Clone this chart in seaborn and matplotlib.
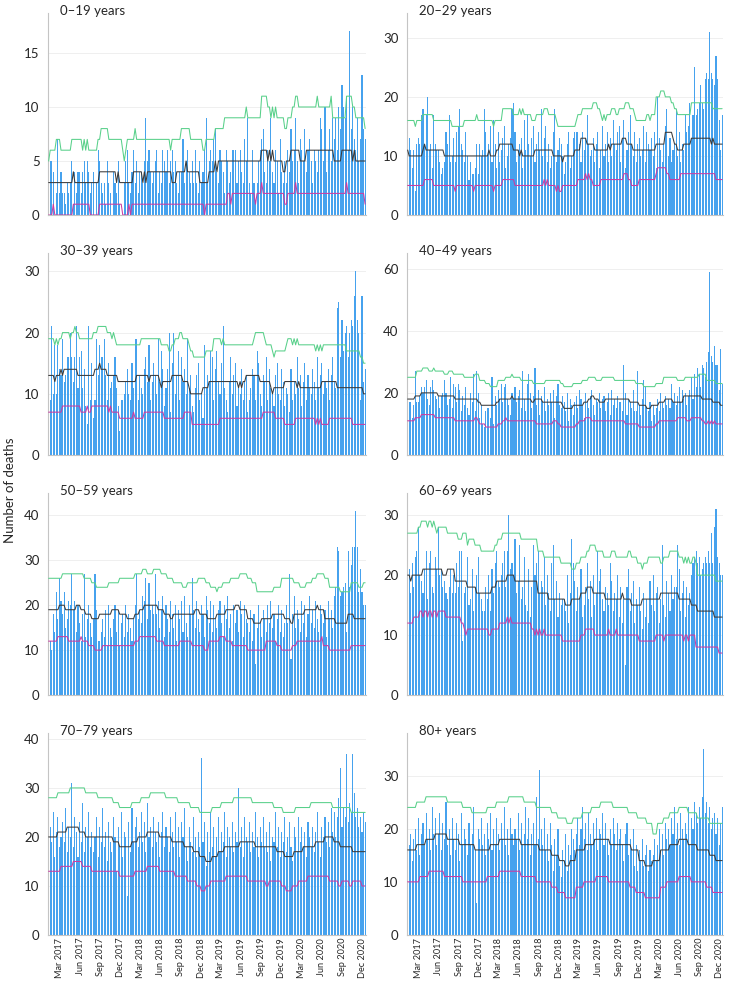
import numpy as np
import pandas as pd
import matplotlib
matplotlib.use("Agg")
import matplotlib.pyplot as plt
import matplotlib.dates as mdates
from matplotlib.ticker import MultipleLocator
import seaborn as sns

# ---------------- data (weekly deaths, week 0 = 2017-01-09) ----------------
START = "2017-01-09"
titles = ["0–19 years", "20–29 years", "30–39 years", "40–49 years",
          "50–59 years", "60–69 years", "70–79 years", "80+ years"]

# bars
bars_0_19 = [1,5,5,4,0,2,7,2,4,2,2,1,3, 2,3,5,1,4,2,4,4,2,4,5,3,5, 4,2,3,4,0,3,6,5,3,2,3,1,5,
             3,2,0,4,3,2,5,1,0,0,3,5,6, 3,2,4,6,3,5,2,4,4,3,5,9,5, 6,4,3,4,5,6,2,4,3,6,5,4,6,
             3,5,6,4,5,3,2,4,4,7,3,5,6, 4,3,5,3,6,3,2,5,3,4,6,9,3, 5,6,5,7,8,4,3,6,5,4,2,6,5,
             3,4,6,6,6,3,5,6,4,3,7,5,9, 3,2,6,3,1,3,5,6,7,8,4,3,6, 5,9,4,3,6,5,2,7,4,3,5,3,6,
             4,8,5,6,9,5,3,7,6,5,8,4,6, 7,5,3,6,5,4,6,9,8,5,10,4,6, 8,5,9,7,9,6,10,8,12,10,9,11,6,
             17,8,10,7,6,9,5,7,13,8,7]
bars_20_29 = [16,13,11,8,11,4,12,13,12,17, 18,12,17,20,11,12,8,17,12,11, 11,9,7,8,9,14,12,17,9,10,
              13,9,14,15,18,12,11,9,14,10, 6,9,7,7,8,12,7,12,10,11, 18,14,10,12,15,9,16,12,8,14,
              9,11,13,15,8,10,12,13,18,19, 14,9,11,12,13,8,16,11,17,12, 10,13,15,9,12,14,11,18,10,13,
              15,9,12,8,10,14,18,9,11,13, 12,10,7,9,12,14,8,10,13,14, 14,14,12,9,14,11,13,17,12,10,
              11,13,9,12,14,8,11,15,10,12, 14,9,13,10,16,12,11,14,15,9, 13,16,8,11,14,17,12,10,14,9,
              12,13,10,11,15,9,14,12,11,13, 10,14,8,20,13,11,9,12,15,18, 10,13,9,11,12,18,10,14,9,12,
              11,17,14,15,19,13,17,25,17,18, 19,22,19,18,23,24,23,31,24,23, 22,27,23,16,11,17]
bars_30_39 = [8,9,21,10,18,10,18,14,13,19, 12,13,16,16,20,16,12,16,21,11, 16,17,11,14,8,5,21,9,15,6,
              9,19,13,18,16,16,19,13,9,15, 11,12,13,16,11,8,4,9,9,10, 12,14,10,9,15,11,19,19,9,13,
              11,10,14,16,12,18,9,12,15,13, 10,19,12,17,14,8,11,14,20,7, 15,20,10,13,17,9,16,12,14,10,
              19,11,13,8,7,11,13,15,9,10, 6,18,11,13,12,17,16,9,14,17, 12,10,15,21,11,9,7,12,16,10,
              13,15,8,11,10,14,9,12,13,7, 9,11,14,13,9,17,15,10,8,13, 12,16,9,14,11,10,8,13,15,10,
              9,14,12,8,11,10,7,14,9,12, 10,16,11,13,8,12,15,9,13,11, 10,14,12,9,16,11,13,15,10,12,
              11,14,9,13,16,12,11,24,25,16, 22,17,20,21,16,20,22,21,26,30, 22,20,9,26,12,14]
bars_40_49 = [16,17,17,12,16,27,17,17,19,22, 20,22,24,18,16,22,24,21,19,18, 19,15,19,20,24,20,16,18,25,15,
              23,22,17,23,21,14,19,16,22,15, 13,20,17,26,14,27,20,12,16,10, 9,14,15,15,12,25,10,19,16,21,
              18,23,17,22,23,18,16,13,20,18, 22,17,19,21,15,27,18,14,23,26, 20,15,19,28,16,21,13,19,17,22,
              14,18,16,20,17,21,12,19,23,16, 15,19,17,14,20,11,18,16,13,17, 19,15,21,18,16,12,20,17,15,19,
              21,16,13,18,17,20,15,18,19,14, 17,20,13,21,16,18,15,19,17,17, 14,29,20,13,18,17,15,21,14,14,
              27,16,13,18,24,22,15,14,17,11, 16,13,15,18,14,20,17,15,19,16, 18,15,23,17,20,16,19,22,17,21,
              18,20,16,19,21,25,18,26,22,28, 26,22,29,28,25,30,33,59,32,30, 35,29,29,21,34,23]
bars_50_59 = [20,12,10,18,14,23,17,26,21,18, 23,15,17,21,20,27,19,21,14,20, 16,12,18,27,13,17,20,16,13,17,
              27,19,12,12,14,17,13,19,11,20, 15,13,17,20,14,19,11,16,18,13, 20,14,18,15,12,17,20,27,17,19,
              16,22,21,26,17,25,19,20,18,27, 18,21,15,19,22,13,20,17,14,21, 18,15,20,12,19,17,21,14,22,16,
              13,20,18,26,19,15,21,17,14,20, 18,13,22,19,16,21,14,20,17,15, 19,21,16,13,20,17,22,15,18,12,
              20,16,19,14,21,18,13,20,17,16, 14,19,12,18,7,15,20,16,13,19, 17,14,20,16,21,15,18,12,17,20,
              14,19,13,16,20,16,27,8,18,22, 15,19,17,14,21,16,20,13,18,22, 16,19,15,21,17,14,20,18,16,19,
              13,21,17,19,15,22,24,33,32,22, 23,24,25,14,32,24,29,33,33,41, 33,23,28,23,20,20]
bars_60_69 = [16,21,17,22,18,23,24,28,20,19, 17,21,24,16,22,24,18,17,23,21, 28,20,21,18,19,17,16,18,21,17,
              20,17,22,18,24,24,9,17,18,23, 15,16,21,14,18,20,23,17,16,14, 14,18,16,20,14,21,17,22,24,19,
              18,20,22,24,18,24,30,21,22,20, 26,17,19,25,16,18,23,15,14,21, 13,18,25,20,22,24,17,19,18,23,
              15,20,17,14,22,25,16,19,13,17, 15,16,16,14,20,12,17,26,22,19, 14,18,16,21,13,15,18,22,16,19,
              13,20,15,17,24,19,21,16,14,18, 17,15,22,19,14,17,16,20,13,18, 12,16,5,18,21,14,17,19,12,16,
              15,18,14,11,17,13,16,12,19,15, 20,14,17,18,12,16,25,15,13,19, 17,14,20,16,18,18,25,21,14,17,
              19,13,18,15,17,20,22,23,24,22, 23,20,21,22,23,22,24,22,27,22, 28,31,23,22,20,20]
bars_70_79 = [17,22,19,25,16,21,24,18,20,23, 19,26,17,22,20,31,18,24,21,16, 23,19,27,17,22,20,25,18,21,17,
              20,24,16,22,19,26,18,21,15,23, 19,17,24,20,13,22,18,25,16,21, 20,8,23,17,26,19,22,24,18,21,
              25,19,23,17,27,20,22,18,24,21, 19,23,16,21,25,18,22,20,17,24, 21,18,25,19,22,16,23,20,26,18,
              15,22,19,17,24,20,16,21,18,36, 19,23,14,21,17,25,18,22,16,20, 24,17,21,19,25,16,22,20,18,23,
              17,21,19,30,18,22,16,24,20,19, 23,17,21,18,25,20,16,22,19,24, 18,21,17,23,15,20,19,25,18,22,
              16,21,19,24,17,20,23,18,15,22, 20,17,24,19,22,18,21,16,23,20, 18,22,17,21,25,19,16,22,20,24,
              19,23,18,26,21,25,20,24,28,34, 22,26,24,37,23,27,25,37,29,24, 26,22,24,21,25,23]
bars_80p = [13,17,19,14,18,20,16,22,15,19, 21,17,23,18,20,16,24,19,22,17, 19,23,16,21,18,25,17,20,15,22,
            18,16,21,19,14,23,17,20,18,15, 21,17,19,24,16,6,20,18,22,17, 19,15,21,18,23,16,20,17,22,19,
            16,21,18,24,17,20,15,22,19,17, 20,18,23,16,21,17,19,24,18,22, 15,19,21,17,26,18,31,20,17,22,
            16,19,14,21,17,12,18,15,20,13, 11,16,14,19,12,17,15,20,18,16, 19,22,17,20,24,18,21,16,23,19,
            17,21,18,22,16,20,19,23,17,21, 18,15,20,17,22,19,16,21,18,20, 17,14,19,21,15,18,16,20,13,17,
            12,16,14,18,13,15,17,12,16,14, 15,18,14,17,20,16,19,15,21,18, 20,17,22,19,24,18,21,17,23,20,
            18,21,19,24,17,22,20,25,23,21, 24,22,26,35,23,25,21,24,20,22, 23,19,22,17,21,24]

# threshold / expected lines as (value, number of consecutive weeks)
upper_0_19 = [(5,1),(6,4),(7,3),(6,7),(7,7),(6,1),(7,1),(6,1),(7,1),(6,6),(7,2),(8,5),(7,9),(6,1),(5,1),(6,1),
              (7,5),(8,1),(7,22),(6,1),(7,6),(8,6),(7,8),(6,2),(7,6),(8,6),(9,14),(10,1),(9,9),(11,4),(10,2),
              (9,1),(10,1),(9,1),(10,1),(9,5),(8,2),(9,3),(10,2),(11,2),(10,12),(11,1),(10,8),(11,1),(9,9),
              (11,4),(10,2),(9,6),(8,1)]
mid_0_19 = [(3,16),(4,1),(3,16),(4,11),(3,1),(4,1),(3,9),(4,6),(3,1),(4,1),(3,1),(4,16),(3,3),(4,6),(5,1),
            (4,8),(3,6),(4,4),(5,1),(4,1),(5,28),(6,4),(5,1),(6,1),(5,1),(6,1),(5,6),(4,2),(5,3),(6,6),(5,4),
            (6,18),(5,5),(6,7),(5,1),(6,1),(5,7)]
low_0_19 = [(0,3),(1,1),(0,12),(1,11),(0,6),(1,15),(0,4),(1,1),(0,1),(1,47),(0,1),(1,14),(2,2),(1,1),(2,15),
            (1,1),(2,3),(3,1),(2,14),(1,2),(2,5),(3,1),(2,32),(3,1),(2,11),(1,1)]

upper_20_29 = [(16,5),(15,1),(16,4),(17,7),(16,12),(15,8),(16,8),(17,1),(16,10),(15,1),(16,5),(18,7),(17,4),
               (18,1),(17,1),(18,1),(17,5),(16,3),(17,5),(18,3),(17,5),(16,1),(15,12),(16,1),(17,3),(18,7),
               (19,3),(18,2),(17,1),(16,1),(17,1),(16,1),(17,3),(18,3),(17,2),(18,4),(19,3),(18,3),(17,1),
               (16,7),(17,2),(16,1),(17,3),(20,3),(21,3),(20,4),(19,2),(18,2),(17,9),(19,14),(18,7)]
mid_20_29 = [(11,1),(10,9),(11,1),(12,1),(11,12),(10,29),(11,1),(10,4),(11,2),(12,9),(11,4),(10,1),(11,1),
             (10,8),(11,12),(10,6),(9,1),(10,7),(11,4),(13,4),(12,5),(11,9),(12,1),(11,1),(12,7),(13,3),
             (12,4),(11,15),(12,6),(14,5),(13,1),(12,2),(11,4),(12,5),(13,13),(12,1),(13,1),(12,6)]
low_20_29 = [(5,11),(6,6),(5,14),(4,1),(5,11),(4,1),(5,12),(4,1),(5,5),(6,8),(5,19),(6,1),(5,1),(6,1),(5,5),
             (4,1),(5,1),(4,2),(5,10),(6,5),(7,1),(6,1),(7,1),(6,2),(5,5),(6,15),(7,3),(6,2),(5,5),(6,11),
             (7,1),(8,6),(7,2),(6,7),(7,23),(6,5)]

upper_30_39 = [(19,4),(18,1),(19,1),(18,1),(19,2),(20,5),(19,1),(20,2),(21,1),(20,2),(19,9),(20,3),(21,6),
               (20,3),(19,1),(20,1),(19,1),(18,16),(19,13),(18,5),(17,2),(18,2),(19,3),(20,2),(19,4),(18,1),
               (17,2),(16,8),(17,5),(19,5),(18,1),(19,1),(18,19),(19,1),(20,6),(19,1),(18,4),(17,1),(16,1),
               (17,7),(18,1),(19,3),(18,1),(19,1),(18,1),(19,1),(18,11),(17,1),(18,1),(17,1),(18,1),(17,1),
               (18,15),(17,9),(16,2),(15,2)]
mid_30_39 = [(13,4),(12,1),(13,3),(14,1),(13,1),(14,9),(13,11),(14,3),(15,1),(14,4),(13,7),(12,12),(13,8),
             (12,1),(13,6),(12,1),(11,1),(12,6),(13,7),(12,4),(11,1),(10,8),(11,4),(12,19),(11,1),(12,1),
             (11,1),(12,2),(13,9),(12,7),(11,1),(10,1),(11,7),(12,8),(11,1),(12,1),(11,14),(12,10),(11,17),
             (10,2)]
low_30_39 = [(7,9),(8,12),(7,4),(8,1),(7,2),(8,11),(7,1),(8,1),(7,5),(6,9),(7,1),(6,6),(7,13),(6,13),(7,5),
             (5,18),(6,28),(7,8),(6,6),(5,7),(6,13),(5,1),(6,1),(5,1),(6,1),(5,5),(6,15),(5,9)]

upper_40_49 = [(25,6),(27,4),(28,4),(27,3),(28,1),(27,6),(26,3),(27,3),(26,7),(25,7),(26,3),(24,4),(23,3),
               (22,5),(24,5),(25,4),(26,1),(25,5),(24,8),(23,8),(24,10),(23,2),(22,6),(23,6),(24,4),(25,5),
               (24,4),(25,8),(24,14),(23,5),(22,8),(23,5),(25,9),(24,5),(25,9),(26,5),(24,6),(23,5)]
mid_40_49 = [(18,5),(19,4),(20,11),(19,11),(18,15),(17,2),(16,10),(17,2),(18,8),(19,1),(18,12),(17,2),
             (18,5),(17,13),(16,1),(15,6),(16,7),(17,3),(18,2),(19,2),(18,3),(17,4),(18,16),(17,6),(16,5),
             (15,3),(16,5),(17,4),(18,5),(17,7),(19,12),(18,7),(17,5),(16,2)]
low_40_49 = [(11,5),(12,4),(13,9),(12,13),(11,13),(12,2),(11,1),(10,4),(9,8),(10,3),(11,2),(12,1),(11,19),
             (10,11),(11,3),(10,2),(9,10),(10,2),(11,4),(12,4),(11,22),(10,9),(9,11),(10,2),(11,12),(12,6),
             (11,3),(12,7),(11,2),(10,2),(11,1),(10,1),(11,1),(10,1),(11,1),(10,5)]

upper_50_59 = [(26,9),(27,14),(26,5),(25,3),(24,8),(25,7),(26,10),(27,5),(28,3),(27,4),(28,5),(27,4),(26,4),
               (25,6),(24,3),(25,7),(26,5),(25,3),(24,4),(23,1),(24,3),(25,5),(26,6),(27,5),(26,3),(25,3),
               (23,11),(24,5),(26,8),(25,4),(24,4),(25,4),(26,3),(27,5),(26,3),(24,7),(23,7),(25,5),(24,3),
               (25,2)]
mid_50_59 = [(19,7),(20,4),(19,7),(20,3),(19,3),(18,4),(17,5),(18,8),(19,5),(18,5),(17,5),(18,3),(19,3),
             (20,9),(19,4),(18,4),(17,2),(18,14),(19,3),(18,5),(17,6),(18,6),(19,6),(20,3),(19,5),(17,4),
             (16,5),(17,7),(18,8),(17,4),(16,2),(18,7),(19,8),(20,1),(19,4),(17,7),(16,8),(18,4),(17,8)]
low_50_59 = [(12,6),(13,7),(12,8),(13,1),(12,4),(11,4),(10,5),(11,21),(12,3),(13,11),(12,5),(11,10),(12,8),
             (11,8),(10,3),(12,7),(13,4),(12,4),(11,10),(10,12),(12,7),(11,3),(10,7),(11,3),(12,16),(13,1),
             (11,4),(10,14),(11,10)]

upper_60_69 = [(27,7),(28,2),(29,4),(28,1),(29,2),(28,1),(29,1),(28,1),(27,1),(28,6),(27,7),(26,3),(27,3),
               (25,1),(26,4),(25,4),(24,9),(25,2),(26,3),(27,12),(26,11),(24,4),(23,11),(22,7),(21,3),(22,3),
               (23,4),(24,2),(25,4),(24,5),(23,5),(24,3),(23,8),(24,2),(23,4),(22,3),(21,1),(22,3),(23,8),
               (22,2),(23,4),(24,6),(23,3),(22,1),(23,1),(22,1),(23,1),(22,2),(23,2),(22,1),(20,12),(19,5)]
mid_60_69 = [(20,2),(19,1),(20,7),(21,13),(20,3),(21,5),(19,8),(18,6),(17,10),(18,3),(19,7),(20,5),(19,15),
             (17,7),(16,11),(15,4),(16,6),(17,4),(18,4),(17,8),(16,11),(17,1),(16,5),(15,7),(16,12),(17,12),
             (16,8),(15,4),(14,11),(13,6)]
low_60_69 = [(12,4),(13,4),(14,2),(13,1),(14,2),(13,1),(14,2),(13,1),(14,2),(13,1),(14,5),(13,10),(12,2),
             (11,1),(10,1),(11,14),(10,2),(11,5),(12,5),(13,1),(12,1),(13,1),(12,13),(11,2),(10,1),(11,1),
             (10,1),(11,1),(10,2),(11,1),(10,11),(9,12),(10,3),(11,6),(10,9),(11,1),(10,4),(11,1),(10,14),
             (9,11),(10,5),(9,1),(10,12),(9,1),(10,2),(9,1),(10,4),(8,15),(7,3)]

upper_70_79 = [(28,6),(29,8),(30,10),(29,8),(28,10),(27,4),(26,8),(27,6),(28,6),(29,10),(28,8),(27,8),(26,6),
               (25,8),(26,6),(27,8),(28,12),(27,14),(26,6),(25,8),(26,10),(27,14),(26,12),(25,10)]
mid_70_79 = [(20,6),(21,6),(22,8),(21,4),(20,18),(19,4),(18,8),(19,4),(20,6),(21,8),(20,8),(19,8),(18,6),
             (17,4),(16,4),(15,4),(16,4),(17,4),(18,10),(19,10),(18,14),(17,5),(16,6),(17,6),(18,8),(19,6),
             (20,6),(19,4),(18,8),(17,9)]
low_70_79 = [(13,8),(14,8),(15,6),(14,6),(13,18),(12,10),(13,8),(14,8),(13,10),(12,8),(11,6),(10,3),(9,3),
             (10,3),(11,10),(12,14),(11,12),(10,2),(11,8),(10,3),(9,4),(10,4),(11,6),(12,14),(11,6),(10,2),
             (11,5),(10,2),(11,6),(10,3)]

upper_80p = [(24,6),(25,6),(26,14),(25,10),(24,6),(23,10),(24,6),(25,8),(26,10),(25,8),(24,10),(23,4),(22,6),
             (21,4),(22,6),(23,6),(24,6),(25,8),(24,10),(23,6),(22,6),(21,4),(19,3),(21,4),(22,4),(23,6),
             (24,6),(23,6),(22,8),(21,9)]
mid_80p = [(16,6),(17,6),(18,6),(19,8),(18,8),(17,10),(16,10),(17,6),(18,14),(17,12),(16,8),(15,5),(14,4),
           (13,3),(14,4),(16,6),(17,6),(18,10),(17,14),(16,5),(14,4),(13,5),(14,5),(16,6),(17,6),(18,6),
           (17,6),(16,8),(15,4),(14,5)]
low_80p = [(10,8),(11,6),(12,10),(11,12),(10,16),(11,8),(12,14),(11,10),(10,10),(9,4),(8,5),(7,7),(9,5),
           (10,8),(11,8),(10,14),(9,4),(8,6),(7,10),(9,4),(10,8),(11,8),(10,10),(9,4),(8,7)]

y_max = [18.7, 34.2, 33.0, 65.0, 45.0, 33.7, 41.2, 38.0]
y_step = [5, 10, 10, 20, 10, 10, 10, 10]

bars_all = [bars_0_19, bars_20_29, bars_30_39, bars_40_49, bars_50_59, bars_60_69, bars_70_79, bars_80p]
upper_all = [upper_0_19, upper_20_29, upper_30_39, upper_40_49, upper_50_59, upper_60_69, upper_70_79, upper_80p]
mid_all = [mid_0_19, mid_20_29, mid_30_39, mid_40_49, mid_50_59, mid_60_69, mid_70_79, mid_80p]
low_all = [low_0_19, low_20_29, low_30_39, low_40_49, low_50_59, low_60_69, low_70_79, low_80p]


def expand(runs):
    out = []
    for v, n in runs:
        out.extend([v] * n)
    return out


def week_x(n):
    return mdates.date2num(pd.date_range(START, periods=n, freq="7D"))


# ---------------- styling ----------------
sns.set_style("white")
plt.rcParams["font.family"] = ["Lato", "DejaVu Sans"]

BAR_C = "#46a2ee"
UP_C = "#58d08a"
MID_C = "#3a3a3a"
LOW_C = "#c93ca2"

W, H = 730, 981
fig = plt.figure(figsize=(W / 100, H / 100), dpi=100)

cols = [(48, 366), (407, 723)]
rows = [(13, 215), (253, 455), (493, 695), (733, 935)]

x_lo = mdates.date2num(pd.Timestamp("2017-01-06"))
x_hi = mdates.date2num(pd.Timestamp("2020-12-18"))

for i in range(8):
    r, c = divmod(i, 2)
    x0, x1 = cols[c]
    t, b = rows[r]
    ax = fig.add_axes([x0 / W, 1 - b / H, (x1 - x0) / W, (b - t) / H])

    bars = bars_all[i]
    xb = week_x(len(bars))
    sns.barplot(x=xb, y=bars, native_scale=True, color=BAR_C, saturation=1,
                width=0.7, errorbar=None, ax=ax, zorder=2,
                linewidth=0, edgecolor="none")
    for runs, col in ((upper_all[i], UP_C), (mid_all[i], MID_C), (low_all[i], LOW_C)):
        vals = expand(runs)
        sns.lineplot(x=week_x(len(vals)), y=vals, color=col, linewidth=0.75, ax=ax, zorder=3)

    ax.set_xlim(x_lo, x_hi)
    ax.set_ylim(0, y_max[i])
    ax.yaxis.set_major_locator(MultipleLocator(y_step[i]))
    ax.yaxis.grid(True, color="#efefef", linewidth=0.7)
    ax.set_axisbelow(True)
    ax.xaxis.set_major_locator(mdates.MonthLocator(bymonth=[3, 6, 9, 12]))
    ax.xaxis.set_major_formatter(mdates.DateFormatter("%b %Y"))
    ax.tick_params(axis="both", length=0)
    ax.tick_params(axis="y", labelsize=9.5, pad=6)
    if r == 3:
        ax.tick_params(axis="x", labelsize=6.6, labelrotation=90, pad=2)
    else:
        ax.tick_params(axis="x", labelbottom=False)
    ax.set_xlabel("")
    ax.set_ylabel("")
    for s in ("top", "right"):
        ax.spines[s].set_visible(False)
    for s in ("left", "bottom"):
        ax.spines[s].set_color("#c4c4c4")
        ax.spines[s].set_linewidth(0.8)
    ax.text(0.038, 1.012, titles[i], transform=ax.transAxes, ha="left", va="center", fontsize=9.5)

fig.text(10 / W, 1 - 490 / H, "Number of deaths", rotation=90, ha="center", va="center", fontsize=9.5)

fig.savefig("out.png", dpi=100)
